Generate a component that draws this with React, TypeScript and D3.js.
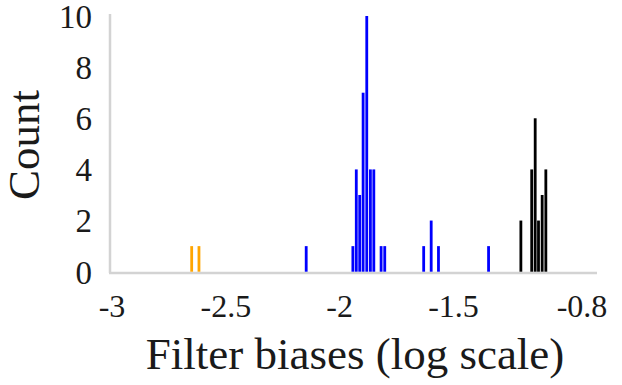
import React from "react";
import * as d3 from "d3";

const W = 622;
const H = 385;

// tick labels on the x axis (log10 of filter bias)
const xTicks = [-3, -2.5, -2, -1.5, -0.8];
const yTicks = [0, 2, 4, 6, 8, 10];

// histogram bins: centre value (log scale) and count, per group
const orangeBins = [-2.65, -2.618];
const orangeCounts = [1, 1];

const blueBins = [
  -2.147, -1.942, -1.927, -1.912, -1.897, -1.881, -1.865, -1.85, -1.818, -1.802,
  -1.631, -1.598, -1.566, -1.309,
];
const blueCounts = [1, 1, 4, 3, 7, 10, 4, 4, 1, 1, 1, 2, 1, 1];

const blackBins = [-1.133, -1.074, -1.055, -1.037, -1.017, -0.997];
const blackCounts = [2, 4, 6, 2, 3, 4];

const groups = [
  { bins: orangeBins, counts: orangeCounts, color: "#FFA500" },
  { bins: blueBins, counts: blueCounts, color: "#0000FF" },
  { bins: blackBins, counts: blackCounts, color: "#000000" },
];

export default function App() {
  const x = d3.scaleLinear().domain([-3, -1.5, -0.8]).range([112, 453.5, 582]);
  const y = d3.scaleLinear().domain([0, 10]).range([271.7, 16]);
  const barW = 2.8;
  const font = "'Liberation Serif', 'Times New Roman', serif";

  return (
    <svg
      width={W}
      height={H}
      style={{ position: "absolute", left: 0, top: 0, background: "#fff" }}
      fontFamily={font}
    >
      {/* axes */}
      <line x1={110} x2={110} y1={14} y2={273} stroke="#d3d3d3" strokeWidth={2.5} />
      <line x1={109} x2={597} y1={273} y2={273} stroke="#d3d3d3" strokeWidth={2.5} />

      {/* bars */}
      {groups.map((g, gi) =>
        g.bins.map((b, i) => (
          <rect
            key={`${gi}-${i}`}
            x={x(b) - barW / 2}
            width={barW}
            y={y(g.counts[i])}
            height={y(0) - y(g.counts[i])}
            fill={g.color}
          />
        ))
      )}

      {/* y ticks */}
      {yTicks.map((t) => (
        <text
          key={`y${t}`}
          x={92}
          y={y(t)}
          dy="0.36em"
          textAnchor="end"
          fontSize={33}
          fill="#1a1a1a"
        >
          {t}
        </text>
      ))}

      {/* x ticks */}
      {xTicks.map((t) => (
        <text
          key={`x${t}`}
          x={x(t)}
          y={317}
          textAnchor="middle"
          fontSize={32}
          fill="#1a1a1a"
        >
          {t}
        </text>
      ))}

      {/* titles */}
      <text x={355} y={369} textAnchor="middle" fontSize={45} fill="#1a1a1a">
        Filter biases (log scale)
      </text>
      <text
        transform={`translate(39,145) rotate(-90)`}
        textAnchor="middle"
        fontSize={45}
        fill="#1a1a1a"
      >
        Count
      </text>
    </svg>
  );
}
